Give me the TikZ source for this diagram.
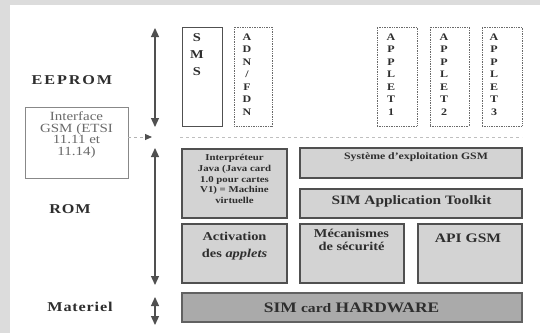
\documentclass[tikz,border=0pt]{standalone}
\usepackage{fontspec}
\setmainfont{Liberation Serif}[FakeStretch=1.2]
\usetikzlibrary{arrows.meta}
\definecolor{edge}{HTML}{505050}
\definecolor{boxfill}{HTML}{D3D3D3}
\definecolor{hwfill}{HTML}{AAAAAA}
\definecolor{ink}{HTML}{2E2E2E}
\definecolor{bg}{HTML}{DCDCDC}
\definecolor{soft}{HTML}{6A6A6A}
\begin{document}
\begin{tikzpicture}[x=1pt,y=-1pt,
  membox/.style={draw=edge!85, line width=0.7pt, densely dotted, fill=white, inner sep=0pt},
  smsbox/.style={draw=edge, line width=1pt, fill=white, inner sep=0pt},
  rombox/.style={draw=edge, line width=1.3pt, fill=boxfill, inner sep=0pt},
  hwbox/.style={draw=edge!90, line width=1.3pt, fill=hwfill, inner sep=0pt},
  ifbox/.style={draw=soft!80, line width=0.8pt, fill=white, inner sep=0pt},
  txt/.style={text=ink, align=center, inner sep=0pt},
  vtxt/.style={text=ink, align=center, anchor=north, inner sep=0pt, font=\bfseries\fontsize{10}{12.5}\selectfont},
  layer/.style={text=ink, inner sep=0pt, font=\bfseries\fontsize{13.5}{15}\selectfont\addfontfeature{LetterSpace=6}},
  arr/.style={draw=edge, line width=1.2pt, {Triangle[length=9pt,width=8pt]}-{Triangle[length=9pt,width=8pt]}},
  darr/.style={draw=gray!60, line width=1pt, dashed, -{Triangle[length=7pt,width=6pt,color=edge]}},
  sepline/.style={draw=gray!50, line width=0.8pt, dashed}
]
\fill[bg] (0,0) rectangle (540,333);
\fill[white] (10,5) rectangle (540,333);
\useasboundingbox (0,0) rectangle (540,333);

% EEPROM boxes
\node[smsbox, minimum width=40pt, minimum height=99pt] (sms) at (202,76.5) {};
\node[membox, minimum width=38pt, minimum height=99pt] (adn) at (253,76.5) {};
\node[membox, minimum width=40pt, minimum height=99pt] (ap1) at (397,76.5) {};
\node[membox, minimum width=39pt, minimum height=99pt] (ap2) at (449.5,76.5) {};
\node[membox, minimum width=40pt, minimum height=99pt] (ap3) at (502,76.5) {};
\node[vtxt, font=\bfseries\fontsize{12}{17}\selectfont] (smst) at (197,33) {S\\M\\S};
\node[vtxt] (adnt) at (247,33.5) {A\\D\\N\\/\\F\\D\\N};
\node[vtxt] (ap1t) at (391,33.5) {A\\P\\P\\L\\E\\T\\1};
\node[vtxt] (ap2t) at (444,33.5) {A\\P\\P\\L\\E\\T\\2};
\node[vtxt] (ap3t) at (494,33.5) {A\\P\\P\\L\\E\\T\\3};

% interface
\node[ifbox, minimum width=103pt, minimum height=71pt] (iface) at (76.5,142.5) {};
\node[txt, text=soft, font=\fontsize{12.5}{11.8}\selectfont] (ifacet) at (76.5,135) {Interface\\GSM (ETSI\\11.11 et\\11.14)};

% ROM boxes
\node[rombox, minimum width=105pt, minimum height=69pt] (interp) at (234.5,183.5) {};
\node[rombox, minimum width=222pt, minimum height=30pt] (sysexp) at (411,163) {};
\node[rombox, minimum width=222pt, minimum height=29pt] (sat) at (411,203.5) {};
\node[rombox, minimum width=105pt, minimum height=59pt] (activ) at (234.5,253.5) {};
\node[rombox, minimum width=104pt, minimum height=59pt] (meca) at (352,253.5) {};
\node[rombox, minimum width=104pt, minimum height=59pt] (api) at (470,253.5) {};
\node[hwbox, minimum width=340pt, minimum height=29pt] (hw) at (352,307.5) {};

\node[txt, font=\bfseries\fontsize{9}{10.8}\selectfont] (interpt) at (234.5,179) {Interpréteur\\Java (Java card\\1.0 pour cartes\\V1) = Machine\\virtuelle};
\node[txt, font=\bfseries\fontsize{9.8}{12}\selectfont] (sysexpt) at (416,157) {Système d'exploitation GSM};
\node[txt, font=\bfseries\fontsize{12.8}{15}\selectfont] (satt) at (411.5,201.5) {SIM Application Toolkit};
\node[txt, font=\bfseries\fontsize{12}{17}\selectfont] (activt) at (234.5,246) {Activation\\des \textit{applets}};
\node[txt, font=\bfseries\fontsize{12}{12.5}\selectfont] (mecat) at (351.5,240) {Mécanismes\\de sécurité};
\node[txt, font=\bfseries\fontsize{13}{15}\selectfont] (apit) at (468,238) {API GSM};
\node[txt, font=\bfseries\fontsize{14.5}{16}\selectfont] (hwt) at (351.5,308) {SIM {\fontsize{13}{15}\selectfont card} HARDWARE};

% layer labels
\node[layer, font=\bfseries\fontsize{13.5}{15}\selectfont\addfontfeature{LetterSpace=14}] (eeprom) at (72,80) {EEPROM};
\node[layer] (rom) at (70,209) {ROM};
\node[layer] (mat) at (80,307) {Materiel};

% arrows
\coordinate (a1t) at (155,28);
\coordinate (a1b) at (155,127);
\coordinate (a2t) at (155,148);
\coordinate (a2b) at (155,285);
\coordinate (a3t) at (155,297);
\coordinate (a3b) at (155,325);
\draw[arr] (a1t) -- (a1b);
\draw[arr] (a2t) -- (a2b);
\draw[arr] (a3t) -- (a3b);

\coordinate (dtip) at (152,137);
\coordinate (sepa) at (180,137);
\coordinate (sepb) at (522,137);
\draw[darr] (iface.east |- dtip) -- (dtip);
\draw[sepline] (sepa) -- (sepb);
\end{tikzpicture}
\end{document}
